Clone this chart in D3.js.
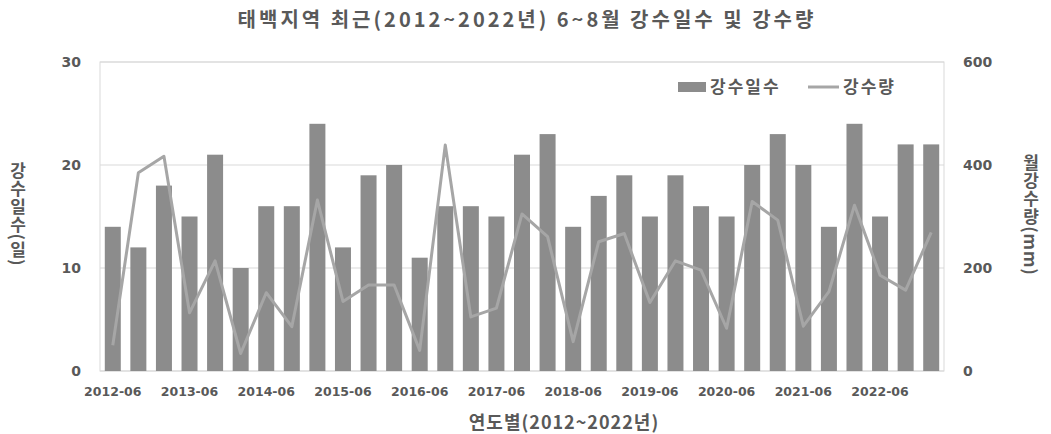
<!DOCTYPE html>
<html>
<head>
<meta charset="utf-8">
<script src="https://cdn.jsdelivr.net/npm/d3@7"></script>
<style>
  body { margin: 0; background: #fff; }
  svg text { font-family: "Noto Sans CJK KR", "Noto Sans", sans-serif; fill: #595959; }
  svg text.num { font-family: "DejaVu Sans", sans-serif; }
</style>
</head>
<body>
<svg class="chart"></svg>
<script>
// DATA
var months = ["2012-06","2012-07","2012-08","2013-06","2013-07","2013-08","2014-06","2014-07","2014-08",
  "2015-06","2015-07","2015-08","2016-06","2016-07","2016-08","2017-06","2017-07","2017-08",
  "2018-06","2018-07","2018-08","2019-06","2019-07","2019-08","2020-06","2020-07","2020-08",
  "2021-06","2021-07","2021-08","2022-06","2022-07","2022-08"];
var rainDays = [14,12,18,15,21,10,16,16,24,12,19,20,11,16,16,15,21,23,14,17,19,15,19,16,15,20,23,20,14,24,15,22,22];
var rainAmount = [50,385,417,113,214,34,152,86,332,135,167,167,40,439,105,122,305,261,57,251,267,133,214,196,83,329,293,87,154,322,186,157,269];
var leftTicks = [0,10,20,30];
var rightTicks = [0,200,400,600];

var W = 1051, H = 434;
var margin = {top: 62, right: 107, bottom: 63, left: 100};
var width = W - margin.left - margin.right,
    height = H - margin.top - margin.bottom;

var svg = d3.select(".chart").attr("width", W).attr("height", H);

var xc = d3.scaleBand().domain(months).range([0, width]);
var yL = d3.scaleLinear().domain([0, 30]).range([height, 0]);
var yR = d3.scaleLinear().domain([0, 600]).range([height, 0]);
var barW = 16;

var g = svg.append("g").attr("transform", "translate(" + margin.left + "," + margin.top + ")");

// gridlines
g.selectAll(".grid").data(leftTicks).enter().append("line")
  .attr("x1", 0).attr("x2", width)
  .attr("y1", function(d) { return yL(d); }).attr("y2", function(d) { return yL(d); })
  .attr("stroke", "#d9d9d9").attr("stroke-width", 1);

// plot border
g.append("rect").attr("x", 0).attr("y", 0).attr("width", width).attr("height", height)
  .attr("fill", "none").attr("stroke", "#d9d9d9");

// bars
g.selectAll(".bar").data(rainDays).enter().append("rect")
  .attr("class", "bar")
  .attr("x", function(d, i) { return xc(months[i]) + (xc.bandwidth() - barW) / 2; })
  .attr("width", barW)
  .attr("y", function(d) { return yL(d); })
  .attr("height", function(d) { return height - yL(d); })
  .attr("fill", "#8c8c8c");

// line
var line = d3.line()
  .x(function(d, i) { return xc(months[i]) + xc.bandwidth() / 2; })
  .y(function(d) { return yR(d); });
g.append("path").datum(rainAmount)
  .attr("d", line)
  .attr("fill", "none")
  .attr("stroke", "#a6a6a6")
  .attr("stroke-width", 3)
  .attr("stroke-linejoin", "round");

// left axis labels
g.selectAll(".lt").data(leftTicks).enter().append("text")
  .attr("class", "num")
  .attr("x", -19).attr("y", function(d) { return yL(d); })
  .attr("dy", "0.35em").attr("text-anchor", "end")
  .style("font-size", "14px").style("font-weight", "bold")
  .text(function(d) { return d; });

// right axis labels
g.selectAll(".rt").data(rightTicks).enter().append("text")
  .attr("class", "num")
  .attr("x", width + 19).attr("y", function(d) { return yR(d); })
  .attr("dy", "0.35em").attr("text-anchor", "start")
  .style("font-size", "14px").style("font-weight", "bold")
  .text(function(d) { return d; });

// x labels every 3rd month
g.selectAll(".xt").data(months.filter(function(d, i) { return i % 3 === 0; })).enter().append("text")
  .attr("class", "num")
  .attr("x", function(d) { return xc(d) + xc.bandwidth() / 2; })
  .attr("y", height + 25)
  .attr("text-anchor", "middle")
  .style("font-size", "12.5px").style("font-weight", "bold")
  .text(function(d) { return d; });

// title
svg.append("text").attr("x", 527).attr("y", 27).attr("text-anchor", "middle")
  .style("font-size", "20px").style("font-weight", "bold").style("letter-spacing", "3px")
  .text("태백지역 최근(2012~2022년) 6~8월 강수일수 및 강수량");

// x axis title
svg.append("text").attr("x", 564).attr("y", 429).attr("text-anchor", "middle")
  .style("font-size", "18px").style("font-weight", "bold").style("letter-spacing", "1px")
  .text("연도별(2012~2022년)");

// y axis titles (vertical stacked)
svg.append("text").attr("x", 18).attr("y", 214).attr("text-anchor", "middle")
  .style("writing-mode", "vertical-rl").style("font-size", "17px").style("font-weight", "bold")
  .style("letter-spacing", "1px")
  .text("강수일수(일)");
svg.append("text").attr("x", 1031).attr("y", 215).attr("text-anchor", "middle")
  .style("writing-mode", "vertical-rl").style("font-size", "17px").style("font-weight", "bold")
  .style("letter-spacing", "1px")
  .text("월강수량(mm)");

// legend
var lg = svg.append("g").attr("transform", "translate(678,87)");
lg.append("rect").attr("x", 0).attr("y", -5).attr("width", 28).attr("height", 10).attr("fill", "#8c8c8c");
lg.append("text").attr("x", 32).attr("y", 0).attr("dy", "0.35em")
  .style("font-size", "17px").style("font-weight", "bold").style("letter-spacing", "2px").text("강수일수");
lg.append("line").attr("x1", 130).attr("x2", 161).attr("y1", 0).attr("y2", 0)
  .attr("stroke", "#a6a6a6").attr("stroke-width", 3);
lg.append("text").attr("x", 165).attr("y", 0).attr("dy", "0.35em")
  .style("font-size", "17px").style("font-weight", "bold").style("letter-spacing", "2px").text("강수량");
</script>
</body>
</html>
